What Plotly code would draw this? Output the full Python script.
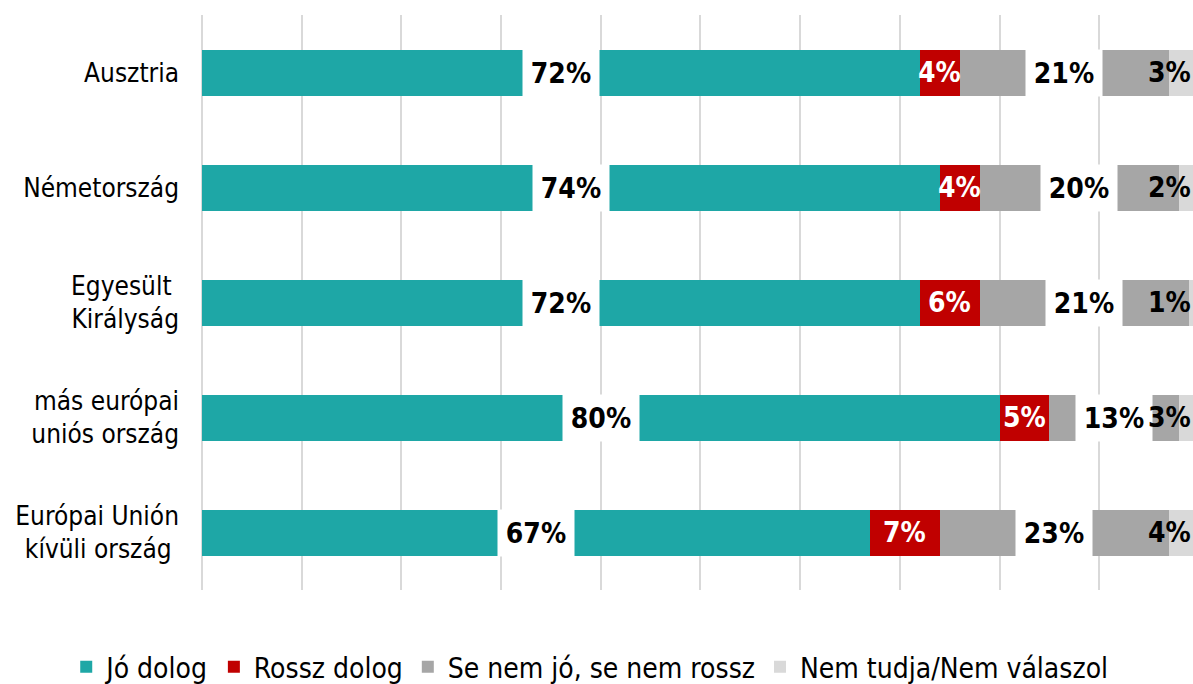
import plotly.graph_objects as go

categories = ["Ausztria", "Németország", "Egyesült <br>Királyság",
              "más európai<br>uniós ország", "Európai Unión<br>kívüli ország\u00a0"]
series_names = ["Jó dolog", "Rossz dolog", "Se nem jó, se nem rossz", "Nem tudja/Nem válaszol"]
jo = [72, 74, 72, 80, 67]
rossz = [4, 4, 6, 5, 7]
se_nem = [21, 20, 21, 13, 23]
nem_tudja = [3, 2, 1, 3, 4]
colors = ["#1ea7a6", "#c00000", "#a6a6a6", "#d9d9d9"]

FONT = "DejaVu Sans Condensed, DejaVu Sans, sans-serif"
XMAX = 99.4

fig = go.Figure()
for name, vals, col in zip(series_names, [jo, rossz, se_nem, nem_tudja], colors):
    fig.add_trace(go.Bar(
        y=categories, x=vals, name=name, orientation="h",
        marker=dict(color=col, line=dict(width=0)), width=0.4,
        hoverinfo="x+name",
    ))

LBL = 28
annotations = []
for i, cat in enumerate(categories):
    c1 = jo[i]
    c2 = c1 + rossz[i]
    c3 = c2 + se_nem[i]
    annotations.append(dict(x=c1 / 2, y=cat, xref="x", yref="y", text=f"<b>{jo[i]}%</b>",
                            showarrow=False, bgcolor="white", width=76, height=46, borderpad=0,
                            font=dict(family=FONT, size=LBL, color="black")))
    annotations.append(dict(x=(c1 + c2) / 2, y=cat, xref="x", yref="y", text=f"<b>{rossz[i]}%</b>",
                            showarrow=False, borderpad=0,
                            font=dict(family=FONT, size=LBL, color="white")))
    annotations.append(dict(x=(c2 + c3) / 2, y=cat, xref="x", yref="y", text=f"<b>{se_nem[i]}%</b>",
                            showarrow=False, bgcolor="white", width=76, height=46, borderpad=0,
                            font=dict(family=FONT, size=LBL, color="black")))
    annotations.append(dict(x=min(c3 + nem_tudja[i], XMAX), y=cat, xref="x", yref="y",
                            text=f"<b>{nem_tudja[i]}%</b>", xanchor="right", xshift=-1,
                            showarrow=False, borderpad=0,
                            font=dict(family=FONT, size=LBL, color="black")))

fig.update_layout(
    barmode="stack",
    width=1193, height=684,
    margin=dict(l=202, r=0, t=15, b=94, autoexpand=False),
    plot_bgcolor="white", paper_bgcolor="white",
    font=dict(family=FONT, size=26, color="black"),
    annotations=annotations,
    showlegend=True,
    legend=dict(orientation="h", traceorder="normal",
                xref="paper", x=-0.137, xanchor="left",
                yref="paper", y=-0.134, yanchor="middle",
                font=dict(family=FONT, size=28, color="black"),
                itemwidth=30, tracegroupgap=0),
)
fig.update_xaxes(range=[0, XMAX], dtick=10, showgrid=True, gridcolor="#d9d9d9", gridwidth=2,
                 zeroline=True, zerolinecolor="#d9d9d9", zerolinewidth=2,
                 showticklabels=False, showline=False, ticks="", fixedrange=True)
fig.update_yaxes(categoryorder="array", categoryarray=categories, autorange="reversed",
                 showgrid=False, zeroline=False, showline=False, ticks="",
                 ticklabelstandoff=22, tickfont=dict(family=FONT, size=26, color="black"),
                 fixedrange=True)

fig.write_html("out.html", config={"displayModeBar": False},
               post_script="document.body.style.margin='0';document.body.style.overflow='hidden';")
